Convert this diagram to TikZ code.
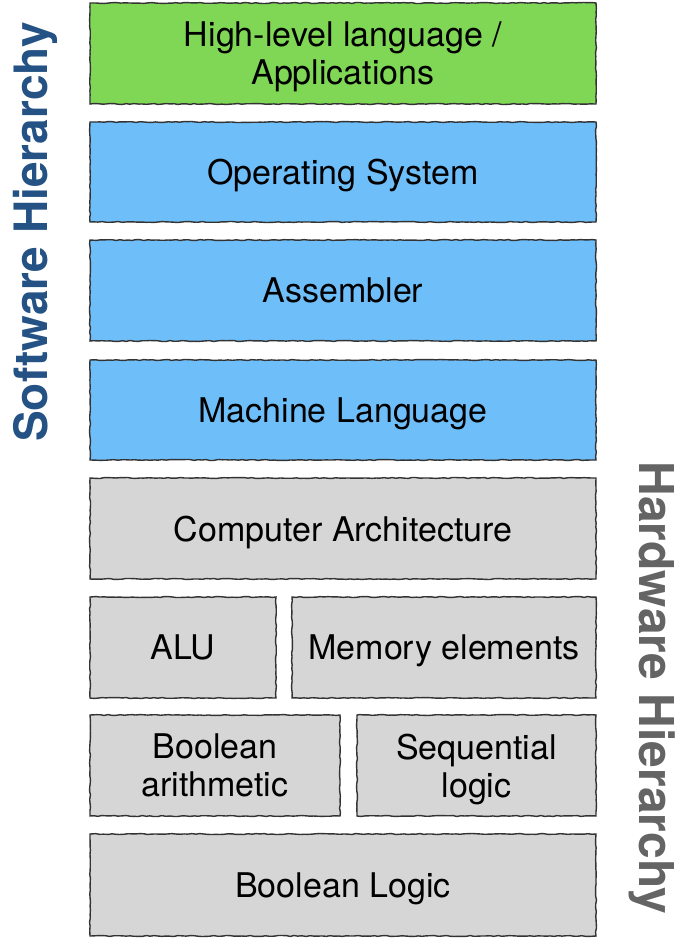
\documentclass[tikz,border=0pt]{standalone}
\usepackage{fontspec}
\setmainfont{TeX Gyre Heros}
\usetikzlibrary{decorations.pathmorphing}

\definecolor{appgreen}{RGB}{128,214,85}
\definecolor{swblue}{RGB}{110,190,250}
\definecolor{hwgrey}{RGB}{214,214,214}
\definecolor{swtext}{RGB}{36,82,132}
\definecolor{hwtext}{RGB}{100,100,100}

\tikzset{
  layer/.style={draw=black!80, line width=1.4pt, inner sep=0pt, align=center,
    text depth=0pt, font=\fontsize{34}{38}\selectfont,
    decorate, decoration={random steps, segment length=4pt, amplitude=0.5pt}},
  side/.style={font=\bfseries\fontsize{46}{50}\selectfont}
}

\begin{document}
\begin{tikzpicture}[x=1pt, y=-1pt]
    \useasboundingbox (0,0) rectangle (689,942);

    % Software layers
    \node[layer, fill=appgreen, minimum width=506, minimum height=101] (apps) at (343,53.5) {High-level language /\\Applications};
    \node[layer, fill=swblue, minimum width=506, minimum height=100] (os) at (343,172) {Operating System};
    \node[layer, fill=swblue, minimum width=506, minimum height=101] (asm) at (343,290.5) {Assembler};
    \node[layer, fill=swblue, minimum width=506, minimum height=100] (ml) at (343,410) {Machine Language};

    % Hardware layers
    \node[layer, fill=hwgrey, minimum width=506, minimum height=101] (arch) at (343,528.5) {Computer Architecture};
    \node[layer, fill=hwgrey, minimum width=186, minimum height=101] (alu) at (183,647.5) {ALU};
    \node[layer, fill=hwgrey, minimum width=304, minimum height=101] (mem) at (444,647.5) {Memory elements};
    \node[layer, fill=hwgrey, minimum width=250, minimum height=101] (barith) at (215,765.5) {Boolean\\arithmetic};
    \node[layer, fill=hwgrey, minimum width=239, minimum height=101] (seq) at (476.5,765.5) {Sequential\\logic};
    \node[layer, fill=hwgrey, minimum width=506, minimum height=102] (blogic) at (343,885) {Boolean Logic};

    % Side labels
    \node[side, swtext, rotate=90] (swlabel) at (35,232) {Software Hierarchy};
    \node[side, hwtext, rotate=-90, font=\bfseries\fontsize{48}{52}\selectfont] (hwlabel) at (652,688) {Hardware Hierarchy};
\end{tikzpicture}
\end{document}
